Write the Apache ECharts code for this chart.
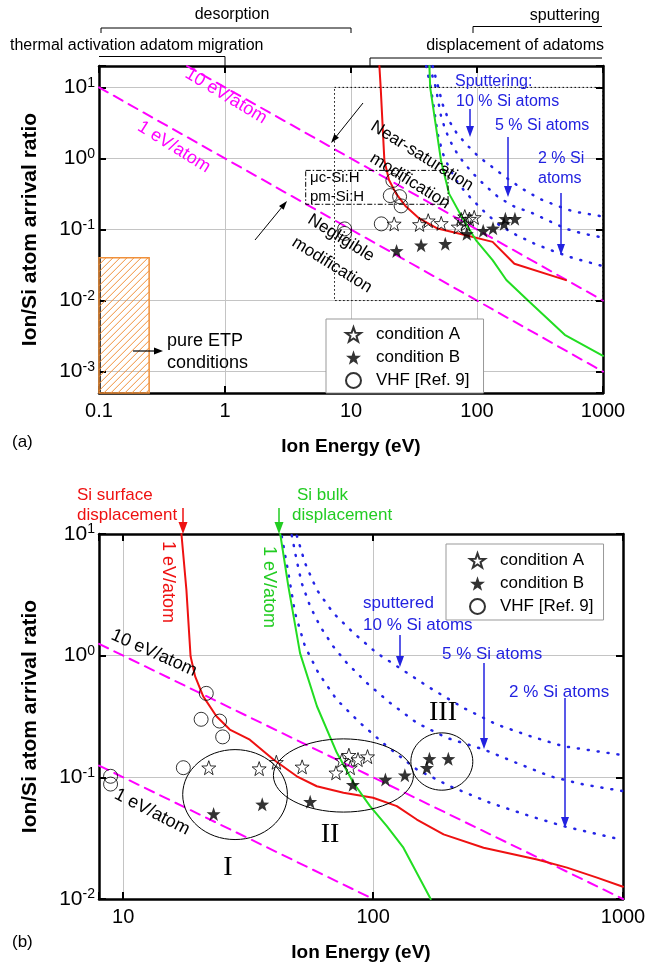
<!DOCTYPE html>
<html>
<head>
<meta charset="utf-8">
<script src="https://cdn.jsdelivr.net/npm/echarts@6/dist/echarts.min.js"></script>
<style>
  html, body { margin: 0; padding: 0; background: #fff; }
  #chart { width: 650px; height: 964px; }
</style>
</head>
<body>
<div id="chart"></div>
<script>
// --------------------------
// data (ion energy in eV, ion/Si arrival ratio)
// --------------------------
const condA_E = [22, 35, 41, 52, 71, 75, 80, 81, 87, 95]
const condA_R = [0.12, 0.118, 0.133, 0.122, 0.109, 0.138, 0.152, 0.12, 0.14, 0.148]
const condB_E = [23, 36, 56, 83, 112, 134, 164, 168, 200]
const condB_R = [0.05, 0.06, 0.063, 0.087, 0.096, 0.104, 0.12, 0.142, 0.142]
const vhf_E = [8.9, 8.9, 17.4, 20.5, 21.5, 24.3, 25]
const vhf_R = [0.102, 0.088, 0.12, 0.30, 0.49, 0.29, 0.215]

// panel (a) curves
const redTop = [[16.8, 20], [17.2, 10], [18.4, 0.94], [20, 0.5], [22.8, 0.32], [27.3, 0.21], [34.8, 0.143],
  [48.7, 0.103], [81.8, 0.083], [133, 0.067], [198, 0.033], [508, 0.0194]]
const greenTop = [[41.9, 20], [42.5, 10], [51.8, 0.93], [60, 0.32], [77, 0.143], [98, 0.071], [133, 0.037],
  [171, 0.0195], [254, 0.01], [497, 0.0033], [1000, 0.00167]]
const tenEvTop = [[0.5, 20], [1000, 0.01]]
const oneEvTop = [[0.1, 10], [1000, 0.001]]

// panel (b) curves
const redBot = [[17.1, 10], [17.9, 3.48], [18.6, 0.99], [19.4, 0.676], [20.9, 0.463], [23.6, 0.318], [26.7, 0.247],
  [32.1, 0.204], [39.9, 0.14], [49.5, 0.102], [59.5, 0.0845], [76.1, 0.0746], [100, 0.0679], [124.4, 0.058],
  [149.6, 0.045], [191.4, 0.034], [276.7, 0.0264], [453, 0.0211], [597, 0.0181], [787, 0.015], [1000, 0.0126]]
const greenBot = [[42.5, 10], [45.8, 3.71], [51, 1.05], [59.6, 0.384], [71.6, 0.159], [83.4, 0.0902], [97.2, 0.058],
  [113.5, 0.0397], [132.2, 0.0264], [170, 0.01]]
const tenEvBot = [[8, 1.25], [1000, 0.01]]
const oneEvBot = [[8, 0.125], [100, 0.01]]

// sputtering yield lines (both panels)
const sput10 = [[44.5, 20], [49.4, 9.85], [53.4, 5.77], [59.5, 3.48], [69.3, 2.24], [83.4, 1.54], [103.5, 1.05],
  [128, 0.79], [169, 0.543], [230, 0.372], [313, 0.271], [425, 0.218], [578, 0.18], [1000, 0.152]]
const sput5 = [[42, 20], [47.2, 9.85], [49.4, 6.14], [51.8, 3.95], [56, 2.54], [61.4, 1.74], [69.3, 1.19],
  [78.5, 0.871], [94.4, 0.597], [117, 0.409], [149.6, 0.28], [197, 0.211], [278, 0.169], [376, 0.131],
  [511, 0.102], [695, 0.0873], [1000, 0.077]]
const sput2 = [[39.5, 20], [43, 9.85], [45.8, 4.77], [48.7, 2.24], [53.4, 1.19], [60.4, 0.721], [71.5, 0.435],
  [88.7, 0.28], [113.5, 0.18], [149.6, 0.116], [203, 0.0845], [294, 0.0617], [425, 0.048], [578, 0.0397],
  [1000, 0.0305]]

// regions: [Emin, Emax, Rmin, Rmax]
const etpBox = [0.1, 0.25, 5e-4, 0.04]
const dottedBox = [7.4, 1000, 0.01, 10]
const filmBox = [4.37, 58.9, 0.2265, 0.679]
const ellipseI = [17.3, 45.4, 0.0308, 0.169]
const ellipseII = [39.9, 145, 0.0518, 0.207]
const ellipseIII = [141.6, 250.6, 0.0784, 0.232]

const legendNames = ['condition A', 'condition B', 'VHF [Ref. 9]']

// --------------------------
// helpers
// --------------------------
const FONT = 'Liberation Sans, Arial, sans-serif'
const zip = (xs, ys) => xs.map((x, i) => [x, ys[i]])

const starPath = (() => {
  let d = ''
  for (let i = 0; i < 10; i++) {
    const a = -Math.PI / 2 + i * Math.PI / 5
    const r = i % 2 ? 0.4 : 1
    d += (i ? 'L' : 'M') + (r * Math.cos(a)).toFixed(3) + ' ' + (r * Math.sin(a)).toFixed(3)
  }
  return 'path://' + d + 'Z'
})()

const isDecade = v => {
  const e = Math.log10(v)
  return Math.abs(e - Math.round(e)) < 1e-6
}
const powLabel = v => isDecade(v) ? '{b|10}{s|' + Math.round(Math.log10(v)) + '}' : ''
const numLabel = v => isDecade(v) ? (v < 1 ? v.toFixed(1) : String(Math.round(v))) : ''

function xAxisPair (g, min, max) {
  return [
    {
      type: 'log', gridIndex: g, min, max, position: 'bottom',
      name: 'Ion Energy (eV)', nameLocation: 'middle', nameGap: 44,
      nameTextStyle: { fontSize: 19, fontWeight: 'bold', color: '#000', fontFamily: FONT },
      axisLine: { onZero: false, lineStyle: { color: '#000', width: 2.5 } },
      axisTick: { inside: true, length: 7, lineStyle: { color: '#000', width: 2 } },
      axisLabel: { formatter: numLabel, fontSize: 20, color: '#000', margin: 8, fontFamily: FONT },
      splitLine: { show: true, lineStyle: { color: '#c4c4c4', width: 1 } }
    },
    {
      type: 'log', gridIndex: g, min, max, position: 'top',
      axisLine: { onZero: false, lineStyle: { color: '#000', width: 2.5 } },
      axisTick: { inside: true, length: 7, lineStyle: { color: '#000', width: 2 } },
      axisLabel: { show: false },
      splitLine: { show: false }
    }
  ]
}

function yAxisPair (g, min, max) {
  return [
    {
      type: 'log', gridIndex: g, min, max, position: 'left',
      name: 'Ion/Si atom arrival ratio', nameLocation: 'middle', nameGap: 58,
      nameTextStyle: { fontSize: 21, fontWeight: 'bold', color: '#000', fontFamily: FONT },
      axisLine: { onZero: false, lineStyle: { color: '#000', width: 2.5 } },
      axisTick: { inside: true, length: 7, lineStyle: { color: '#000', width: 2 } },
      axisLabel: {
        formatter: powLabel, margin: 4, color: '#000',
        rich: {
          b: { fontSize: 21, fontFamily: FONT, color: '#000', lineHeight: 23 },
          s: { fontSize: 14, fontFamily: FONT, color: '#000', verticalAlign: 'top', lineHeight: 14 }
        }
      },
      splitLine: { show: true, lineStyle: { color: '#c4c4c4', width: 1 } }
    },
    {
      type: 'log', gridIndex: g, min, max, position: 'right',
      axisLine: { onZero: false, lineStyle: { color: '#000', width: 2.5 } },
      axisTick: { inside: true, length: 7, lineStyle: { color: '#000', width: 2 } },
      axisLabel: { show: false },
      splitLine: { show: false }
    }
  ]
}

function lineSeries (axis, data, color, width, type) {
  return {
    type: 'line', xAxisIndex: axis, yAxisIndex: axis, data, symbol: 'none', clip: true,
    silent: true, animation: false, z: 2,
    lineStyle: { color, width, type: type || 'solid', cap: 'round' }
  }
}

function panelSeries (axis, red, green, ten, one) {
  const hollow = { color: 'rgba(255,255,255,0)', borderColor: '#000', borderWidth: 1 }
  return [
    lineSeries(axis, one, '#ff00ff', 2, [10, 7]),
    lineSeries(axis, ten, '#ff00ff', 2, [10, 7]),
    lineSeries(axis, sput10, '#2424e6', 2.5, [1, 9]),
    lineSeries(axis, sput5, '#2424e6', 2.5, [1, 9]),
    lineSeries(axis, sput2, '#2424e6', 2.5, [1, 9]),
    lineSeries(axis, red, '#ee1111', 2),
    lineSeries(axis, green, '#22dd22', 2),
    {
      name: 'condition A', type: 'scatter', xAxisIndex: axis, yAxisIndex: axis, z: 3,
      data: zip(condA_E, condA_R), symbol: starPath, symbolSize: 14, itemStyle: hollow, animation: false
    },
    {
      name: 'condition B', type: 'scatter', xAxisIndex: axis, yAxisIndex: axis, z: 3,
      data: zip(condB_E, condB_R), symbol: starPath, symbolSize: 14, itemStyle: { color: '#000' }, animation: false
    },
    {
      name: 'VHF [Ref. 9]', type: 'scatter', xAxisIndex: axis, yAxisIndex: axis, z: 3,
      data: zip(vhf_E, vhf_R), symbol: 'circle', symbolSize: 14, itemStyle: hollow, animation: false
    }
  ]
}

function legendAt (left, top, padding) {
  return {
    data: legendNames, orient: 'vertical', left, top, selectedMode: false,
    itemWidth: 15, itemHeight: 15, itemGap: 6, padding,
    backgroundColor: '#fff', borderColor: '#999', borderWidth: 1,
    textStyle: { fontSize: 17, color: '#000', fontFamily: FONT, lineHeight: 15, padding: [0, 0, 0, 10] }
  }
}

const [xTop, xTop2] = xAxisPair(0, 0.1, 1000)
const [yTop, yTop2] = yAxisPair(0, 5e-4, 20)
const [xBot, xBot2] = xAxisPair(1, 8, 1000)
const [yBot, yBot2] = yAxisPair(1, 0.01, 10)

const option = {
  animation: false,
  textStyle: { fontFamily: FONT },
  grid: [
    { left: 99, top: 66, width: 504, height: 327, outerBoundsMode: 'none' },
    { left: 99, top: 534, width: 524, height: 365, outerBoundsMode: 'none' }
  ],
  xAxis: [xTop, xTop2, xBot, xBot2],
  yAxis: [yTop, yTop2, yBot, yBot2],
  legend: [legendAt(326, 319, [7, 14, 4, 19]), legendAt(446, 544, [8, 10, 5, 23])],
  series: [
    ...panelSeries(0, redTop, greenTop, tenEvTop, oneEvTop),
    ...panelSeries(2, redBot, greenBot, tenEvBot, oneEvBot)
  ]
}

const chart = echarts.init(document.getElementById('chart'))
chart.setOption(option)

// --------------------------
// annotations
// --------------------------
const P = (g, x, y) => chart.convertToPixel({ gridIndex: g }, [x, y])
const G = []

function txt (x, y, s, o) {
  o = o || {}
  G.push({
    type: 'text', x, y, rotation: (o.rot || 0) * Math.PI / 180, z: 10, silent: true,
    style: {
      text: s, fill: o.color || '#000', fontSize: o.size || 16, fontFamily: o.family || FONT,
      align: o.align || 'left', verticalAlign: 'middle'
    }
  })
}

function arrow (x1, y1, x2, y2, color, w, hl, hw) {
  const a = Math.atan2(y2 - y1, x2 - x1)
  const bx = x2 - hl * Math.cos(a)
  const by = y2 - hl * Math.sin(a)
  const px = -Math.sin(a) * hw / 2
  const py = Math.cos(a) * hw / 2
  G.push({ type: 'line', z: 10, silent: true, shape: { x1, y1, x2: bx, y2: by }, style: { stroke: color, lineWidth: w } })
  G.push({ type: 'polygon', z: 10, silent: true, shape: { points: [[x2, y2], [bx + px, by + py], [bx - px, by - py]] }, style: { fill: color } })
}

function poly (pts, w) {
  G.push({ type: 'polyline', z: 10, silent: true, shape: { points: pts }, style: { stroke: '#000', lineWidth: w || 1, fill: null } })
}

function boxOf (g, b) {
  const p1 = P(g, b[0], b[3])
  const p2 = P(g, b[1], b[2])
  return { x: p1[0], y: p1[1], width: p2[0] - p1[0], height: p2[1] - p1[1] }
}

// hatched ETP region
const hb = boxOf(0, etpBox)
const hatch = '#f0903a'
for (let c = hb.x + hb.y; c < hb.x + hb.width + hb.y + hb.height; c += 7) {
  const xa = Math.max(hb.x, c - (hb.y + hb.height))
  const xb = Math.min(hb.x + hb.width, c - hb.y)
  if (xb > xa) G.push({ type: 'line', z: 9, silent: true, shape: { x1: xa, y1: c - xa, x2: xb, y2: c - xb }, style: { stroke: hatch, lineWidth: 1 } })
}
G.push({ type: 'rect', z: 9, silent: true, shape: hb, style: { fill: null, stroke: hatch, lineWidth: 1.5 } })

// dotted and dash-dot boxes
G.push({ type: 'rect', z: 9, silent: true, shape: boxOf(0, dottedBox), style: { fill: null, stroke: '#000', lineWidth: 1, lineDash: [1.5, 2.5] } })
G.push({ type: 'rect', z: 9, silent: true, shape: boxOf(0, filmBox), style: { fill: null, stroke: '#000', lineWidth: 1, lineDash: [5, 2, 1.5, 2] } })

// ellipses in panel (b)
;[ellipseI, ellipseII, ellipseIII].forEach(e => {
  const b = boxOf(1, e)
  G.push({
    type: 'ellipse', z: 9, silent: true,
    shape: { cx: b.x + b.width / 2, cy: b.y + b.height / 2, rx: b.width / 2, ry: b.height / 2 },
    style: { fill: null, stroke: '#000', lineWidth: 1 }
  })
})

// headings above panel (a)
txt(232, 15, 'desorption', { align: 'center' })
poly([[101, 33], [101, 28], [351, 28], [351, 33]])
txt(10, 46, 'thermal activation adatom migration')
poly([[99, 56.5], [225, 56.5], [225, 66]])
txt(600, 16, 'sputtering', { align: 'right' })
poly([[473, 33], [473, 26.5], [602, 26.5]])
txt(604, 46, 'displacement of adatoms', { align: 'right' })
poly([[370, 66], [370, 58], [602, 58]])

// panel (a) texts
const mag = '#ff00ff'
txt(226, 96, '10 eV/atom', { color: mag, size: 18, rot: -31, align: 'center' })
txt(174, 147, '1 eV/atom', { color: mag, size: 18, rot: -32, align: 'center' })
txt(422, 156, 'Near-saturation', { size: 17, rot: -32, align: 'center' })
txt(410, 181, 'modification', { size: 17, rot: -32, align: 'center' })
txt(341, 238, 'Negligible', { size: 17, rot: -32, align: 'center' })
txt(332, 265, 'modification', { size: 17, rot: -32, align: 'center' })
txt(310, 178, 'μc-Si:H', { size: 15 })
txt(310, 197, 'pm-Si:H', { size: 15 })
arrow(363, 103, 331, 143, '#000', 1, 9, 6)
arrow(255, 240, 287, 201, '#000', 1, 9, 6)
txt(167, 341, 'pure ETP', { size: 18 })
txt(167, 363, 'conditions', { size: 18 })
arrow(133, 351, 163, 351, '#000', 1.2, 9, 7)

const blue = '#2222e0'
txt(455, 82, 'Sputtering:', { color: blue })
txt(456, 102, '10 % Si atoms', { color: blue })
txt(495, 126, '5 % Si atoms', { color: blue })
txt(538, 159, '2 % Si', { color: blue })
txt(538, 179, 'atoms', { color: blue })
arrow(470, 109, 470, 137, blue, 1.5, 11, 8)
arrow(508, 137, 508, 197, blue, 1.5, 11, 8)
arrow(561, 193, 561, 255, blue, 1.5, 11, 8)
txt(12, 442, '(a)', { size: 17 })

// panel (b) texts
txt(77, 495, 'Si surface', { color: '#ee1111', size: 17 })
txt(77, 515, 'displacement', { color: '#ee1111', size: 17 })
arrow(183, 508, 183, 534, '#ee1111', 1.5, 12, 9)
txt(297, 495, 'Si bulk', { color: '#22cc22', size: 17 })
txt(292, 515, 'displacement', { color: '#22cc22', size: 17 })
arrow(279, 508, 279, 534, '#22cc22', 1.5, 12, 9)
txt(168, 582, '1 eV/atom', { color: '#ee1111', size: 18, rot: -90, align: 'center' })
txt(269, 587, '1 eV/atom', { color: '#22cc22', size: 18, rot: -90, align: 'center' })
txt(154, 653, '10 eV/atom', { size: 18, rot: -24, align: 'center' })
txt(152, 812, '1 eV/atom', { size: 18, rot: -27, align: 'center' })
txt(363, 603, 'sputtered', { color: blue, size: 17 })
txt(363, 625, '10 % Si atoms', { color: blue, size: 17 })
txt(442, 654, '5 % Si atoms', { color: blue, size: 17 })
txt(509, 692, '2 % Si atoms', { color: blue, size: 17 })
arrow(400, 635, 400, 667, blue, 1.5, 11, 8)
arrow(484, 663, 484, 749, blue, 1.5, 11, 8)
arrow(565, 698, 565, 828, blue, 1.5, 11, 8)
const serif = 'Liberation Serif, Times New Roman, serif'
txt(228, 868, 'I', { size: 28, family: serif, align: 'center' })
txt(330, 835, 'II', { size: 28, family: serif, align: 'center' })
txt(443, 713, 'III', { size: 28, family: serif, align: 'center' })
txt(12, 942, '(b)', { size: 17 })

chart.setOption({ graphic: { elements: G } })
</script>
</body>
</html>
